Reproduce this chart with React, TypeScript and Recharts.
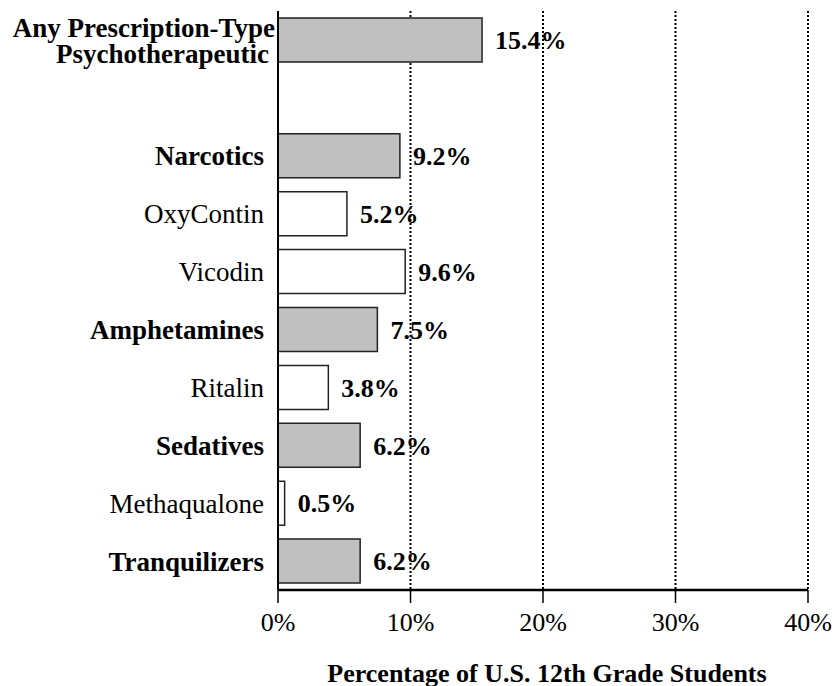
import React from "react";
import { BarChart, Bar, XAxis, YAxis, CartesianGrid, Cell, LabelList } from "recharts";

const categories = [
  "Any Prescription-Type|Psychotherapeutic",
  " ",
  "Narcotics",
  "OxyContin",
  "Vicodin",
  "Amphetamines",
  "Ritalin",
  "Sedatives",
  "Methaqualone",
  "Tranquilizers",
];
const values: (number | null)[] = [15.4, null, 9.2, 5.2, 9.6, 7.5, 3.8, 6.2, 0.5, 6.2];
const isMain = [true, false, true, false, false, true, false, true, false, true];
const xTicks = [0, 10, 20, 30, 40];
const xTitle = "Percentage of U.S. 12th Grade Students";

const data = categories.map((name, i) => ({ name, value: values[i], main: isMain[i] }));

const FONT = "'Liberation Serif', 'Times New Roman', serif";

const YTick = (props: any) => {
  const { x, y, payload, index } = props;
  const label: string = payload.value;
  const bold = isMain[index];
  if (!label.trim()) return null;
  const lines = label.split("|");
  if (lines.length > 1) {
    return (
      <g>
        <text x={x + 5} y={y - 13} dy="0.355em" textAnchor="end" fontFamily={FONT} fontSize={27} fontWeight="bold" fill="#000">
          {lines[0]}
        </text>
        <text x={x - 1} y={y + 13} dy="0.355em" textAnchor="end" fontFamily={FONT} fontSize={27} fontWeight="bold" fill="#000">
          {lines[1]}
        </text>
      </g>
    );
  }
  return (
    <text x={x - 6} y={y} dy="0.355em" textAnchor="end" fontFamily={FONT} fontSize={27} fontWeight={bold ? "bold" : "normal"} fill="#000">
      {label}
    </text>
  );
};

export default function App() {
  return (
    <div style={{ position: "absolute", left: 0, top: 0, background: "#fff" }}>
      <BarChart
        width={835}
        height={686}
        data={data}
        layout="vertical"
        margin={{ top: 11, right: 27, bottom: 0, left: 0 }}
      >
        <CartesianGrid horizontal={false} vertical={true} stroke="#000" strokeWidth={2} strokeDasharray="2 2" />
        <XAxis
          type="number"
          domain={[0, 40]}
          ticks={xTicks}
          interval={0}
          tickFormatter={(v: number) => `${v}%`}
          axisLine={{ stroke: "#000", strokeWidth: 2.5 }}
          tickLine={{ stroke: "#000", strokeWidth: 1.5 }}
          tickSize={13}
          tickMargin={10}
          tick={{ fill: "#000", fontSize: 26, fontFamily: FONT }}
          height={96}
          label={{
            value: xTitle,
            position: "insideBottom",
            offset: 4,
            dx: 4,
            style: { fill: "#000", fontSize: 26, fontFamily: FONT, fontWeight: "bold" },
          }}
        />
        <XAxis
          xAxisId="top"
          orientation="top"
          type="number"
          domain={[0, 40]}
          height={0}
          tick={false}
          tickLine={false}
          axisLine={{ stroke: "#000", strokeWidth: 2.5 }}
        />
        <YAxis
          type="category"
          dataKey="name"
          width={278}
          interval={0}
          tickLine={false}
          tickSize={0}
          tickMargin={8}
          axisLine={{ stroke: "#000", strokeWidth: 2 }}
          tick={<YTick />}
        />
        <Bar dataKey="value" barSize={44} stroke="#222" strokeWidth={1.5} isAnimationActive={false}>
          {data.map((d, i) => (
            <Cell key={i} fill={d.main ? "#c0c0c0" : "#ffffff"} />
          ))}
          <LabelList
            dataKey="value"
            position="right"
            offset={13}
            formatter={(v: any) => (v == null ? "" : `${Number(v).toFixed(1)}%`)}
            style={{ fill: "#000", fontSize: 26, fontFamily: FONT, fontWeight: "bold" }}
          />
        </Bar>
      </BarChart>
    </div>
  );
}
